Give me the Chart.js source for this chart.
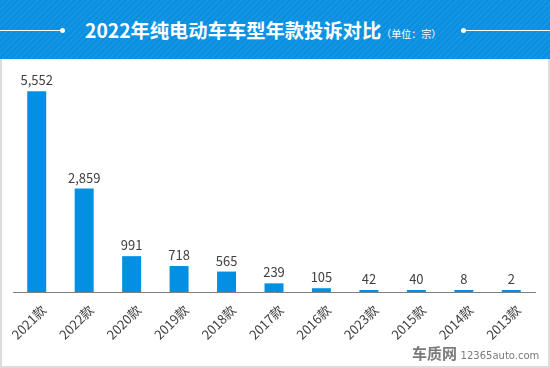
<!DOCTYPE html>
<html>
<head>
<meta charset="utf-8">
<script src="https://cdn.jsdelivr.net/npm/chart.js@4"></script>
<style>
  body { margin: 0; background: #fff; }
  #wrap { position: relative; width: 550px; height: 368px; overflow: hidden; font-family: "Noto Sans CJK SC", "Noto Sans", sans-serif; }
  #head {
    position: absolute; left: 0; top: 0; width: 550px; height: 59px;
    background: repeating-linear-gradient(135deg, #0a8fe0 0 2px, #1496e4 2px 4px);
  }
  #title { position: absolute; left: 85px; top: 16px; color: #fff; white-space: nowrap; }
  #title b { font-size: 19.3px; font-weight: bold; }
  #title span { font-size: 10px; }
  .line { position: absolute; top: 30px; height: 1px; background: #fff; }
  .dot { position: absolute; top: 28px; width: 5px; height: 5px; border-radius: 50%; background: #fff; }
  #frame { position: absolute; left: 0; top: 59px; width: 546px; height: 307px; border: 2px solid #dcdcdc; border-top: none; }
  #myChart { position: absolute; left: 0; top: 59px; }
  #mark { position: absolute; left: 412px; top: 340px; color: #7a7a7a; white-space: nowrap; }
  #mark b { font-size: 15px; font-weight: bold; }
  #mark span { font-size: 10px; font-family: "DejaVu Sans", sans-serif; }
</style>
</head>
<body>
<div id="wrap">
  <div id="head">
    <div class="line" style="left:0;width:61px"></div>
    <div class="dot" style="left:60px"></div>
    <div id="title"><b>2022年纯电动车车型年款投诉对比</b><span>（单位：宗）</span></div>
    <div class="dot" style="left:461px"></div>
    <div class="line" style="left:463px;width:87px"></div>
  </div>
  <div id="frame"></div>
  <canvas id="myChart" width="550" height="309"></canvas>
  <div id="mark"><b>车质网</b> <span>12365auto.com</span></div>
</div>
<script>
const years = ['2021款', '2022款', '2020款', '2019款', '2018款', '2017款', '2016款', '2023款', '2015款', '2014款', '2013款'];
const counts = [5552, 2859, 991, 718, 565, 239, 105, 42, 40, 8, 2];

const valueLabels = {
  id: 'valueLabels',
  afterDatasetsDraw(chart) {
    const ctx = chart.ctx;
    ctx.save();
    ctx.fillStyle = '#404040';
    ctx.font = '13px "Noto Sans CJK SC", "Noto Sans", sans-serif';
    ctx.textAlign = 'center';
    ctx.textBaseline = 'alphabetic';
    chart.getDatasetMeta(0).data.forEach((bar, i) => {
      ctx.fillText(counts[i].toLocaleString('en-US'), bar.x, bar.y - 6);
    });
    ctx.restore();
  }
};

const ctx = document.getElementById('myChart');
new Chart(ctx, {
  type: 'bar',
  data: {
    labels: years,
    datasets: [{
      data: counts,
      backgroundColor: '#0490e2',
      barPercentage: 0.4,
      categoryPercentage: 1,
      minBarLength: 2
    }]
  },
  options: {
    responsive: false,
    animation: false,
    layout: { padding: { left: 13, right: 15, top: 16, bottom: 0 } },
    plugins: { legend: { display: false }, tooltip: { enabled: false } },
    scales: {
      y: { display: false, min: 0, max: 6000 },
      x: {
        grid: { display: false },
        border: { display: true, color: '#808080', width: 1 },
        ticks: {
          autoSkip: false,
          maxRotation: 45,
          minRotation: 45,
          padding: 2,
          labelOffset: 7,
          color: '#404040',
          font: { size: 13, family: '"Noto Sans CJK SC", "Noto Sans", sans-serif' }
        },
        afterFit(scale) { scale.height = 76; }
      }
    }
  },
  plugins: [valueLabels]
});
</script>
</body>
</html>
